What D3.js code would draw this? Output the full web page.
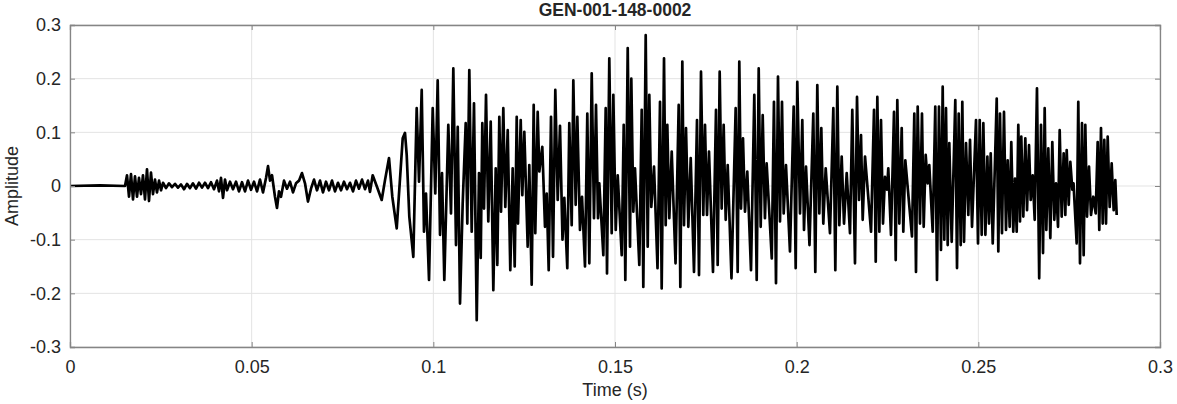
<!DOCTYPE html>
<html>
<head>
<meta charset="utf-8">
<script src="https://cdn.jsdelivr.net/npm/d3@7"></script>
<style>
  html, body { margin: 0; padding: 0; background: #ffffff; }
  svg { display: block; }
  text { font-family: "Liberation Sans", Arial, Helvetica, sans-serif; fill: #262626; }
</style>
</head>
<body>
<svg id="chart" width="1177" height="404"></svg>
<script>
const chartTitle = "GEN-001-148-0002";
const xLabel = "Time (s)";
const yLabel = "Amplitude";
const xTicks = [0, 0.05, 0.1, 0.15, 0.2, 0.25, 0.3];
const xTickLabels = ["0", "0.05", "0.1", "0.15", "0.2", "0.25", "0.3"];
const yTicks = [-0.3, -0.2, -0.1, 0, 0.1, 0.2, 0.3];
const yTickLabels = ["-0.3", "-0.2", "-0.1", "0", "0.1", "0.2", "0.3"];

// [time (s), amplitude] (local extrema)
const samples = [
[0,0],[0.00826,0.001],[0.01514,0],[0.01569,0.02],[0.01624,-0.02],[0.01679,0.022],[0.01734,-0.025],
[0.01789,0.018],[0.01844,-0.02],[0.01899,0.015],[0.01954,-0.015],[0.02009,0.02],[0.02064,-0.025],
[0.02119,0.031],[0.02174,-0.028],[0.02229,0.025],[0.02284,-0.015],[0.02339,0.012],[0.02394,-0.012],
[0.02450,0.01],[0.02505,-0.008],[0.02560,0.006],[0.02642,-0.004],[0.02725,0.005],[0.02807,-0.002],
[0.02890,0.004],[0.02972,-0.003],[0.03055,0.003],[0.03138,-0.006],[0.03220,0.004],[0.03303,-0.004],
[0.03385,0.005],[0.03468,-0.005],[0.03550,0.006],[0.03633,-0.003],[0.03716,0.006],[0.03798,-0.004],
[0.03881,0.007],[0.03963,-0.006],[0.04046,0.01],[0.04101,-0.01],[0.04156,0.015],[0.04211,-0.022],
[0.04266,0.012],[0.04321,-0.008],[0.04404,0.008],[0.04486,-0.006],[0.04569,0.008],[0.04651,-0.01],
[0.04734,0.007],[0.04817,-0.01],[0.04899,0.01],[0.04982,-0.007],[0.05064,0.008],[0.05147,-0.01],
[0.05229,0.012],[0.05312,-0.012],[0.05395,0.015],[0.05450,0.037],[0.05505,0.01],[0.05560,0.02],
[0.05642,-0.02],[0.05697,-0.041],[0.05752,-0.01],[0.05807,-0.02],[0.05890,0.01],[0.05972,-0.005],
[0.06055,0.008],[0.06138,-0.012],[0.06220,0.005],[0.06303,0.01],[0.06385,0.024],[0.06468,0.005],
[0.06550,-0.029],[0.06633,-0.005],[0.06716,0.012],[0.06798,-0.008],[0.06881,0.01],[0.06963,-0.012],
[0.07046,0.008],[0.07128,-0.008],[0.07211,0.01],[0.07294,-0.01],[0.07376,0.006],[0.07459,-0.008],
[0.07541,0.008],[0.07624,-0.006],[0.07706,0.006],[0.07789,-0.01],[0.07872,0.01],[0.07954,-0.005],
[0.08037,0.012],[0.08119,-0.006],[0.08202,0.01],[0.08257,-0.011],[0.08331,0.02],[0.08441,0],
[0.08579,-0.026],[0.08670,0.011],[0.08780,0.052],[0.08871,-0.02],[0.08992,-0.079],[0.09157,0.089],
[0.09220,0.099],[0.09267,0.058],[0.09339,-0.057],[0.09449,-0.132],[0.09542,0.145],[0.09606,0.008],
[0.09680,0.179],[0.09743,-0.085],[0.09798,-0.014],[0.09881,-0.175],[0.09983,0.145],[0.10054,-0.014],
[0.10120,0.197],[0.10184,-0.091],[0.10239,0.024],[0.10302,-0.175],[0.10412,0.114],[0.10486,-0.051],
[0.10550,0.219],[0.10624,-0.11],[0.10671,0.11],[0.10734,-0.219],[0.10808,-0.032],[0.10891,0.117],
[0.10935,-0.07],[0.10990,0.216],[0.11056,-0.085],[0.11119,0.154],[0.11194,-0.25],[0.11257,0.024],
[0.11304,-0.134],[0.11348,0.117],[0.11395,-0.042],[0.11450,0.17],[0.11513,-0.066],[0.11579,0.12],
[0.11651,-0.194],[0.11717,0.033],[0.11761,-0.147],[0.11816,0.129],[0.11863,-0.048],[0.11926,0.145],
[0.11981,-0.039],[0.12047,0.104],[0.12118,-0.157],[0.12184,0.033],[0.12239,-0.15],[0.12295,0.129],
[0.12330,-0.07],[0.12405,0.123],[0.12449,-0.017],[0.12504,0.101],[0.12597,-0.113],[0.12641,0.039],
[0.12707,-0.184],[0.12762,0.151],[0.12806,-0.088],[0.12872,0.138],[0.12917,0.027],[0.12999,0.073],
[0.13073,-0.076],[0.13120,-0.014],[0.13175,-0.157],[0.13239,0.129],[0.13294,-0.132],[0.13357,0.179],
[0.13423,-0.026],[0.13486,0.112],[0.13555,-0.1],[0.13605,-0.022],[0.13687,-0.153],[0.13742,0.117],
[0.13808,-0.073],[0.13853,0.197],[0.13918,-0.035],[0.13963,0.129],[0.14036,-0.082],[0.14092,-0.02],
[0.14174,-0.15],[0.14238,0.135],[0.14293,-0.144],[0.14359,0.21],[0.14422,-0.06],[0.14477,0.151],
[0.14532,-0.06],[0.14568,0.005],[0.14679,-0.129],[0.14744,0.145],[0.14780,-0.163],[0.14843,0.238],
[0.14909,-0.088],[0.14954,0.17],[0.15020,-0.082],[0.15075,0.02],[0.15185,-0.129],[0.15240,0.114],
[0.15284,-0.175],[0.15350,0.257],[0.15413,-0.113],[0.15449,0.2],[0.15504,-0.048],[0.15550,0.033],
[0.15669,-0.147],[0.15735,0.142],[0.15779,-0.188],[0.15845,0.281],[0.15900,-0.113],[0.15944,0.17],
[0.15999,-0.039],[0.16074,0.036],[0.16170,-0.153],[0.16239,0.157],[0.16285,-0.191],[0.16349,0.238],
[0.16395,-0.073],[0.16440,0.114],[0.16495,-0.06],[0.16561,0.064],[0.16666,-0.144],[0.16753,0.151],
[0.16798,-0.188],[0.16853,0.232],[0.16899,-0.073],[0.16954,0.108],[0.17018,-0.076],[0.17084,0.052],
[0.17174,-0.16],[0.17257,0.123],[0.17312,-0.166],[0.17367,0.213],[0.17430,-0.054],[0.17477,0.114],
[0.17532,-0.054],[0.17587,0.064],[0.17697,-0.16],[0.17780,0.142],[0.17826,-0.147],[0.17881,0.213],
[0.17936,-0.042],[0.17991,0.114],[0.18047,-0.063],[0.18102,0.039],[0.18206,-0.172],[0.18321,0.145],
[0.18376,-0.16],[0.18421,0.232],[0.18468,-0.042],[0.18523,0.089],[0.18578,-0.048],[0.18641,0.027],
[0.18743,-0.157],[0.18834,0.17],[0.18900,-0.175],[0.18955,0.219],[0.19010,-0.076],[0.19065,0.132],
[0.19127,-0.06],[0.19174,0.042],[0.19315,-0.135],[0.19375,0.157],[0.19431,-0.181],[0.19486,0.204],
[0.19541,-0.066],[0.19596,0.157],[0.19643,-0.051],[0.19706,0.039],[0.19816,-0.122],[0.19918,0.148],
[0.19973,-0.153],[0.20017,0.194],[0.20092,-0.051],[0.20155,0.123],[0.20202,-0.082],[0.20257,0.036],
[0.20353,-0.11],[0.20458,0.135],[0.20513,-0.16],[0.20568,0.188],[0.20623,-0.051],[0.20678,0.108],
[0.20733,-0.07],[0.20799,0.033],[0.20917,-0.088],[0.21009,0.145],[0.21064,-0.157],[0.21119,0.185],
[0.21174,-0.073],[0.21239,0.055],[0.21303,-0.07],[0.21377,0.024],[0.21468,-0.088],[0.21531,0.142],
[0.21605,-0.144],[0.21661,0.166],[0.21716,-0.026],[0.21771,0.095],[0.21817,-0.063],[0.21881,0.055],
[0.22047,-0.085],[0.22129,0.142],[0.22176,-0.141],[0.22220,0.166],[0.22275,-0.085],[0.22321,0.123],
[0.22376,-0.07],[0.22431,0.017],[0.22486,-0.007],[0.22522,0.033],[0.22596,-0.091],[0.22679,0.138],
[0.22726,-0.138],[0.22770,0.16],[0.22825,-0.07],[0.22891,0.108],[0.22935,-0.085],[0.22990,0.048],
[0.23174,-0.094],[0.23238,0.135],[0.23284,-0.16],[0.23331,0.148],[0.23394,-0.07],[0.23449,0.135],
[0.23496,-0.076],[0.23551,0.058],[0.23606,0.005],[0.23650,0.039],[0.23744,-0.085],[0.23815,0.148],
[0.23862,-0.175],[0.23917,0.148],[0.23972,-0.119],[0.24019,0.185],[0.24063,-0.1],[0.24110,0.145],
[0.24157,-0.11],[0.24201,0.08],[0.24267,-0.104],[0.24366,0.16],[0.24413,-0.153],[0.24460,0.135],
[0.24515,-0.11],[0.24559,0.157],[0.24606,-0.104],[0.24661,0.08],[0.24724,-0.054],[0.24771,0.086],
[0.24826,-0.076],[0.24936,0.123],[0.24991,-0.107],[0.25038,0.123],[0.25093,-0.091],[0.25138,0.117],
[0.25194,-0.091],[0.25249,0.055],[0.25294,-0.07],[0.25341,0.061],[0.25396,-0.107],[0.25506,0.163],
[0.25550,-0.122],[0.25596,0.135],[0.25651,-0.088],[0.25706,0.138],[0.25761,-0.082],[0.25808,0.048],
[0.25863,-0.076],[0.25907,0.082],[0.25962,-0.085],[0.26009,0.014],[0.26056,-0.085],[0.26100,0.114],
[0.26147,-0.066],[0.26182,0.092],[0.26238,-0.057],[0.26293,0.089],[0.26340,-0.045],[0.26395,0.076],
[0.26441,-0.026],[0.26496,0.02],[0.26551,-0.063],[0.26614,0.182],[0.26675,-0.172],[0.26725,0.114],
[0.26780,-0.125],[0.26826,0.145],[0.26871,-0.082],[0.26926,0.07],[0.26981,-0.097],[0.27036,0.082],
[0.27091,-0.063],[0.27138,0.005],[0.27193,-0.076],[0.27239,0.104],[0.27294,-0.057],[0.27349,0.061],
[0.27394,-0.054],[0.27432,0.067],[0.27488,-0.035],[0.27532,0.045],[0.27587,-0.007],[0.27620,0.005],
[0.27707,-0.107],[0.27751,0.157],[0.27798,-0.144],[0.27853,0.117],[0.27899,-0.129],[0.27944,0.114],
[0.27991,-0.057],[0.28046,0.036],[0.28101,-0.054],[0.28164,-0.02],[0.28230,-0.051],[0.28285,0.082],
[0.28329,-0.082],[0.28376,0.108],[0.28423,-0.07],[0.28467,0.086],[0.28514,-0.07],[0.28560,0.092],
[0.28615,-0.039],[0.28670,0.042],[0.28725,-0.045],[0.28770,0.011],[0.28808,-0.054]
];

const svg = d3.select("#chart");
const plotLeft = 70, plotRight = 1160, plotTop = 25, plotBottom = 347;
const x = d3.scaleLinear().domain([0, 0.3]).range([plotLeft, plotRight]);
const y = d3.scaleLinear().domain([-0.3, 0.3]).range([plotBottom, plotTop]);

// grid
svg.append("g").selectAll("line").data(xTicks).join("line")
  .attr("x1", d => x(d)).attr("x2", d => x(d)).attr("y1", plotTop).attr("y2", plotBottom)
  .attr("stroke", "#e3e3e3").attr("stroke-width", 1);
svg.append("g").selectAll("line").data(yTicks).join("line")
  .attr("x1", plotLeft).attr("x2", plotRight).attr("y1", d => y(d)).attr("y2", d => y(d))
  .attr("stroke", "#e3e3e3").attr("stroke-width", 1);

// waveform
svg.append("clipPath").attr("id", "clip").append("rect")
  .attr("x", plotLeft).attr("y", plotTop).attr("width", plotRight - plotLeft).attr("height", plotBottom - plotTop);
const line = d3.line().x(d => x(d[0])).y(d => y(d[1]));
svg.append("path").datum(samples)
  .attr("clip-path", "url(#clip)")
  .attr("d", line).attr("fill", "none").attr("stroke", "#000000")
  .attr("stroke-width", 2.7).attr("stroke-linejoin", "round");

// axes with inward ticks
const axisColor = "#858585";
const xAxis = d3.axisBottom(x).tickValues(xTicks).tickFormat((d, i) => xTickLabels[i]).tickSize(-5).tickPadding(13);
const yAxis = d3.axisLeft(y).tickValues(yTicks).tickFormat((d, i) => yTickLabels[i]).tickSize(-5).tickPadding(9);
const gx = svg.append("g").attr("transform", `translate(0,${plotBottom})`).call(xAxis);
const gy = svg.append("g").attr("transform", `translate(${plotLeft},0)`).call(yAxis);
const gxTop = svg.append("g").attr("transform", `translate(0,${plotTop})`).call(d3.axisTop(x).tickValues(xTicks).tickFormat("").tickSize(-5));
const gyRight = svg.append("g").attr("transform", `translate(${plotRight},0)`).call(d3.axisRight(y).tickValues(yTicks).tickFormat("").tickSize(-5));
[gx, gy, gxTop, gyRight].forEach(g => {
  g.select(".domain").attr("stroke", axisColor).attr("stroke-width", 1.3);
  g.selectAll(".tick line").attr("stroke", axisColor);
  g.selectAll(".tick text").attr("font-size", 18).attr("fill", "#262626")
    .attr("font-family", '"Liberation Sans", Arial, sans-serif');
});

// labels
svg.append("text").attr("x", (plotLeft + plotRight) / 2).attr("y", 16)
  .attr("text-anchor", "middle").attr("font-size", 17.5).attr("font-weight", "bold").text(chartTitle);
svg.append("text").attr("x", (plotLeft + plotRight) / 2).attr("y", 396)
  .attr("text-anchor", "middle").attr("font-size", 18).text(xLabel);
svg.append("text").attr("transform", `translate(18,${(plotTop + plotBottom) / 2}) rotate(-90)`)
  .attr("text-anchor", "middle").attr("font-size", 18).text(yLabel);
</script>
</body>
</html>
